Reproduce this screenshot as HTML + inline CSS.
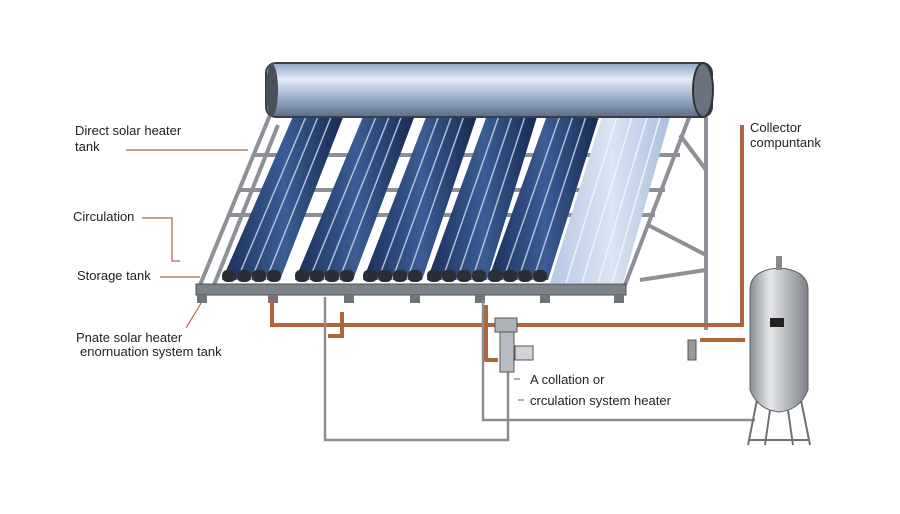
<!DOCTYPE html>
<html><head><meta charset="utf-8"><style>
html,body{margin:0;padding:0;background:#fff;}
svg{display:block;font-family:"Liberation Sans",sans-serif;}
</style></head><body>
<svg width="900" height="514" viewBox="0 0 900 514" xmlns="http://www.w3.org/2000/svg">
<defs>
<linearGradient id="tank" x1="0" y1="0" x2="0" y2="1">
<stop offset="0" stop-color="#8fa4c4"/><stop offset="0.3" stop-color="#e4ebf5"/><stop offset="0.6" stop-color="#a4b6d0"/><stop offset="1" stop-color="#5c6c86"/></linearGradient>
<linearGradient id="tube" x1="0" y1="0" x2="1" y2="0">
<stop offset="0" stop-color="#1b2f5a"/><stop offset="0.5" stop-color="#3c5d94"/><stop offset="1" stop-color="#14264c"/></linearGradient>
<linearGradient id="ltube" x1="0" y1="0" x2="1" y2="0">
<stop offset="0" stop-color="#b6c8e4"/><stop offset="0.5" stop-color="#dbe5f3"/><stop offset="1" stop-color="#a8bcdc"/></linearGradient>
<linearGradient id="st" x1="0" y1="0" x2="1" y2="0">
<stop offset="0" stop-color="#8a8e94"/><stop offset="0.35" stop-color="#e6e8ea"/><stop offset="1" stop-color="#7c8086"/></linearGradient>
</defs>
<rect width="900" height="514" fill="#fff"/>
<g stroke="#8d9096" stroke-width="4" fill="none">
<line x1="706" y1="117" x2="706" y2="330"/>
<line x1="680" y1="135" x2="706" y2="170"/>
<line x1="648" y1="225" x2="706" y2="255"/>
<line x1="640" y1="280" x2="706" y2="270"/>
<line x1="270" y1="115" x2="200" y2="285"/>
<line x1="690" y1="115" x2="625" y2="285"/>
<line x1="255" y1="155" x2="680" y2="155"/>
<line x1="240" y1="190" x2="665" y2="190"/>
<line x1="228" y1="215" x2="655" y2="215"/>
<line x1="278" y1="125" x2="214" y2="285"/>
</g>
<g>
<polygon points="297,107 347,107 280,280 222,280" fill="url(#tube)"/>
<polygon points="367,107 418,107 353,280 295,280" fill="url(#tube)"/>
<polygon points="430,107 480,107 422,280 363,280" fill="url(#tube)"/>
<polygon points="490,107 540,107 487,280 427,280" fill="url(#tube)"/>
<polygon points="550,107 602,107 548,280 488,280" fill="url(#tube)"/>
<polygon points="605,107 673,107 623,283 550,283" fill="url(#ltube)"/>
<g stroke="#c4d2ea" stroke-width="1.5" opacity="0.85">
<line x1="310" y1="107" x2="237" y2="280"/><line x1="322" y1="107" x2="251" y2="280"/><line x1="335" y1="107" x2="266" y2="280"/>
<line x1="380" y1="107" x2="309" y2="280"/><line x1="393" y1="107" x2="324" y2="280"/><line x1="405" y1="107" x2="339" y2="280"/>
<line x1="442" y1="107" x2="378" y2="280"/><line x1="455" y1="107" x2="392" y2="280"/><line x1="467" y1="107" x2="407" y2="280"/>
<line x1="502" y1="107" x2="442" y2="280"/><line x1="515" y1="107" x2="457" y2="280"/><line x1="528" y1="107" x2="472" y2="280"/>
<line x1="563" y1="107" x2="503" y2="280"/><line x1="576" y1="107" x2="518" y2="280"/><line x1="589" y1="107" x2="533" y2="280"/>
</g>
<g stroke="#eef3fa" stroke-width="1.5">
<line x1="620" y1="107" x2="566" y2="283"/><line x1="635" y1="107" x2="582" y2="283"/><line x1="650" y1="107" x2="598" y2="283"/><line x1="663" y1="107" x2="612" y2="283"/>
</g>
<g fill="#2a2e36">
<rect x="222" y="270" width="14" height="12" rx="5"/><rect x="237" y="270" width="14" height="12" rx="5"/><rect x="252" y="270" width="14" height="12" rx="5"/><rect x="267" y="270" width="14" height="12" rx="5"/>
<rect x="295" y="270" width="14" height="12" rx="5"/><rect x="310" y="270" width="14" height="12" rx="5"/><rect x="325" y="270" width="14" height="12" rx="5"/><rect x="340" y="270" width="14" height="12" rx="5"/>
<rect x="363" y="270" width="14" height="12" rx="5"/><rect x="378" y="270" width="14" height="12" rx="5"/><rect x="393" y="270" width="14" height="12" rx="5"/><rect x="408" y="270" width="14" height="12" rx="5"/>
<rect x="427" y="270" width="14" height="12" rx="5"/><rect x="442" y="270" width="14" height="12" rx="5"/><rect x="457" y="270" width="14" height="12" rx="5"/><rect x="472" y="270" width="14" height="12" rx="5"/>
<rect x="488" y="270" width="14" height="12" rx="5"/><rect x="503" y="270" width="14" height="12" rx="5"/><rect x="518" y="270" width="14" height="12" rx="5"/><rect x="533" y="270" width="14" height="12" rx="5"/>
</g>
</g>
<rect x="196" y="284" width="430" height="11" fill="#7d8188" stroke="#4d5158"/>
<g fill="#6f737a">
<rect x="197" y="295" width="10" height="8"/><rect x="268" y="295" width="10" height="8"/><rect x="344" y="295" width="10" height="8"/>
<rect x="410" y="295" width="10" height="8"/><rect x="475" y="295" width="10" height="8"/><rect x="540" y="295" width="10" height="8"/><rect x="614" y="295" width="10" height="8"/>
</g>
<rect x="266" y="63" width="446" height="54" rx="10" fill="url(#tank)" stroke="#3a3e46" stroke-width="2"/>
<ellipse cx="703" cy="90" rx="10" ry="27" fill="#6a7280" stroke="#333" stroke-width="2"/>
<ellipse cx="272" cy="90" rx="6" ry="26" fill="#4a505a"/>
<g fill="none" stroke="#b0663a" stroke-width="4">
<polyline points="272,300 272,325 742,325 742,125"/>
<polyline points="342,312 342,336 328,336"/>
<polyline points="486,305 486,360 498,360"/>
<polyline points="700,340 745,340"/>
</g>
<g fill="none" stroke="#8a8e94" stroke-width="2.5">
<polyline points="325,297 325,440 508,440 508,345"/>
<polyline points="483,300 483,420 755,420"/>
</g>
<rect x="495" y="318" width="22" height="14" fill="#aeb2b8" stroke="#555"/>
<rect x="500" y="332" width="14" height="40" fill="#b8bcc2" stroke="#555"/>
<rect x="515" y="346" width="18" height="14" fill="#d0d3d7" stroke="#555"/>
<rect x="688" y="340" width="8" height="20" fill="#999" stroke="#555"/>
<g stroke="#6e7278" stroke-width="2" fill="none">
<line x1="757" y1="400" x2="748" y2="445"/><line x1="801" y1="400" x2="810" y2="445"/>
<line x1="770" y1="410" x2="765" y2="445"/><line x1="788" y1="410" x2="793" y2="445"/>
<line x1="750" y1="440" x2="808" y2="440"/>
</g>
<path d="M750,290 Q750,270 779,268 Q808,270 808,290 L808,390 Q800,410 779,412 Q758,410 750,390 Z" fill="url(#st)" stroke="#5c6066"/>
<rect x="776" y="256" width="6" height="14" fill="#888"/>
<rect x="770" y="318" width="14" height="9" fill="#222"/>
<g stroke="#a26a4c" stroke-width="1.2" fill="none">
<line x1="126" y1="150" x2="248" y2="150"/>
<polyline points="142,218 172,218 172,261 180,261"/>
<line x1="160" y1="277" x2="200" y2="277"/>
<line x1="186" y1="328" x2="203" y2="300"/>
<line x1="742" y1="125" x2="742" y2="140"/>
<line x1="514" y1="379" x2="520" y2="379"/>
<line x1="518" y1="400" x2="524" y2="400"/>
</g>
<g fill="#222" font-size="13">
<text x="75" y="135">Direct solar heater</text>
<text x="75" y="151">tank</text>
<text x="73" y="221">Circulation</text>
<text x="77" y="280">Storage tank</text>
<text x="76" y="342">Pnate solar heater</text>
<text x="80" y="356">enornuation system tank</text>
<text x="750" y="132">Collector</text>
<text x="750" y="147">compuntank</text>
<text x="530" y="384">A collation or</text>
<text x="530" y="405">crculation system heater</text>
</g>
</svg>
</body></html>
